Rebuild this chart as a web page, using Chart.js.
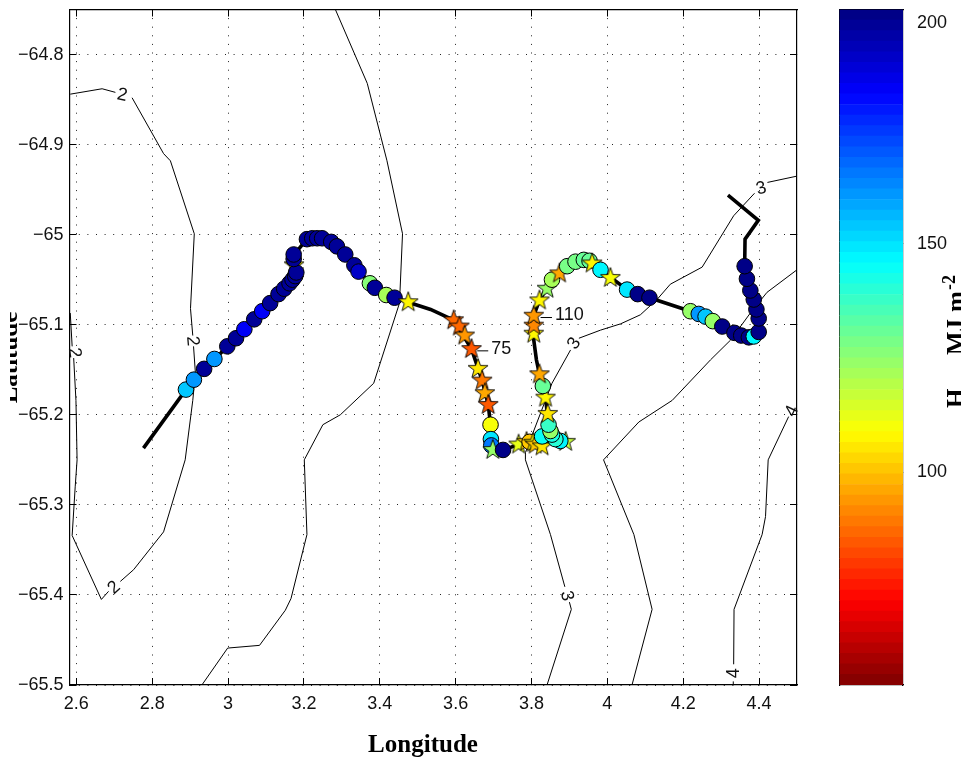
<!DOCTYPE html>
<html>
<head>
<meta charset="utf-8">
<title>Track over contours</title>
<script src="https://cdn.jsdelivr.net/npm/chart.js@4/dist/chart.umd.min.js"></script>
<style>
  html, body { margin: 0; padding: 0; background: #fff; overflow: hidden; }
  canvas { position: absolute; top: 0; }
  #map { left: 0; }
  #bar { left: 830px; }
</style>
</head>
<body>
<canvas id="map" width="830" height="761"></canvas>
<canvas id="bar" width="131" height="761"></canvas>
<script>
// axis ticks
const lonTicks = [2.6, 2.8, 3, 3.2, 3.4, 3.6, 3.8, 4, 4.2, 4.4];
const lonTickLabels = ['2.6', '2.8', '3', '3.2', '3.4', '3.6', '3.8', '4', '4.2', '4.4'];
const latTicks = [-64.8, -64.9, -65, -65.1, -65.2, -65.3, -65.4, -65.5];
const latTickLabels = ['\u221264.8', '\u221264.9', '\u221265', '\u221265.1', '\u221265.2', '\u221265.3', '\u221265.4', '\u221265.5'];
const barTicks = [100, 150];

// ship track line
const trackLon = [2.777, 2.889, 2.998, 3.090, 3.148, 3.180, 3.174, 3.208, 3.248, 3.287, 3.333, 3.374, 3.439, 3.475, 3.534, 3.595, 3.642, 3.670, 3.686, 3.692, 3.694, 3.725, 3.766, 3.828, 3.863, 3.845, 3.837, 3.821, 3.813, 3.806, 3.806, 3.821, 3.854, 3.894, 3.938, 3.982, 4.052, 4.111, 4.219, 4.303, 4.353, 4.386, 4.399, 4.399, 4.377, 4.362, 4.363, 4.398, 4.318];
const trackLat = [-65.237, -65.172, -65.124, -65.085, -65.060, -65.042, -65.022, -65.005, -65.004, -65.013, -65.034, -65.054, -65.070, -65.075, -65.083, -65.095, -65.127, -65.162, -65.189, -65.211, -65.234, -65.239, -65.233, -65.235, -65.227, -65.211, -65.181, -65.155, -65.139, -65.117, -65.090, -65.073, -65.050, -65.035, -65.028, -65.039, -65.061, -65.070, -65.085, -65.102, -65.112, -65.113, -65.108, -65.093, -65.062, -65.035, -65.005, -64.984, -64.956];

// stations along the track (star = 1 draws a star, otherwise a circle)
const stationLon = [2.889, 2.910, 2.937, 2.964, 2.998, 3.021, 3.043, 3.069, 3.090, 3.111, 3.133, 3.148, 3.174, 3.162, 3.170, 3.177, 3.180, 3.173, 3.173, 3.208, 3.222, 3.235, 3.248, 3.272, 3.287, 3.309, 3.333, 3.344, 3.374, 3.387, 3.417, 3.439, 3.475, 3.595, 3.610, 3.624, 3.642, 3.659, 3.670, 3.677, 3.686, 3.692, 3.693, 3.694, 3.698, 3.725, 3.766, 3.787, 3.795, 3.805, 3.810, 3.828, 3.828, 3.890, 3.876, 3.863, 3.854, 3.850, 3.845, 3.843, 3.837, 3.830, 3.821, 3.806, 3.806, 3.806, 3.821, 3.841, 3.854, 3.874, 3.894, 3.916, 3.938, 3.953, 3.960, 3.982, 4.008, 4.052, 4.080, 4.111, 4.219, 4.241, 4.259, 4.278, 4.303, 4.335, 4.353, 4.373, 4.386, 4.399, 4.399, 4.393, 4.386, 4.377, 4.368, 4.362];
const stationLat = [-65.172, -65.161, -65.149, -65.138, -65.124, -65.115, -65.105, -65.094, -65.085, -65.076, -65.066, -65.060, -65.034, -65.054, -65.050, -65.046, -65.042, -65.027, -65.022, -65.005, -65.004, -65.004, -65.004, -65.008, -65.013, -65.022, -65.034, -65.041, -65.054, -65.059, -65.067, -65.070, -65.075, -65.095, -65.102, -65.112, -65.127, -65.149, -65.162, -65.176, -65.189, -65.211, -65.227, -65.234, -65.239, -65.239, -65.233, -65.230, -65.230, -65.231, -65.233, -65.235, -65.224, -65.230, -65.229, -65.227, -65.222, -65.218, -65.211, -65.199, -65.181, -65.168, -65.155, -65.110, -65.101, -65.090, -65.073, -65.060, -65.050, -65.043, -65.035, -65.030, -65.028, -65.029, -65.032, -65.039, -65.048, -65.061, -65.066, -65.070, -65.085, -65.088, -65.091, -65.096, -65.102, -65.109, -65.112, -65.114, -65.113, -65.108, -65.093, -65.083, -65.072, -65.062, -65.049, -65.035];
const stationVal = [155, 161, 198, 161, 198, 198, 183, 198, 183, 198, 198, 198, 108, 198, 198, 198, 198, 198, 198, 198, 198, 198, 198, 198, 198, 198, 198, 192, 126, 198, 122, 198, 108, 88, 86, 93, 84, 105, 90, 97, 84, 110, 150, 165, 125, 200, 112, 100, 100, 108, 100, 105, 145, 118, 148, 140, 142, 125, 137, 105, 108, 130, 97, 107, 92, 95, 108, 125, 122, 97, 128, 128, 130, 130, 108, 148, 110, 150, 200, 200, 125, 162, 155, 124, 200, 200, 200, 200, 148, 200, 200, 200, 200, 200, 200, 200];
const stationStar = [0, 0, 0, 0, 0, 0, 0, 0, 0, 0, 0, 0, 1, 0, 0, 0, 0, 0, 0, 0, 0, 0, 0, 0, 0, 0, 0, 0, 0, 0, 0, 0, 1, 1, 1, 1, 1, 1, 1, 1, 1, 0, 0, 0, 1, 0, 1, 1, 0, 1, 1, 1, 0, 1, 0, 0, 0, 0, 0, 1, 1, 0, 1, 1, 1, 1, 1, 1, 0, 1, 0, 0, 0, 0, 1, 0, 1, 0, 0, 0, 0, 0, 0, 0, 0, 0, 0, 0, 0, 0, 0, 0, 0, 0, 0, 0];

// contour lines, null leaves the gap where a label sits
const contourLon = [
    [2.584, 2.668, 2.703, null, 2.747, 2.830, 2.848, 2.911, 2.901, 2.907, null, 2.909, 2.914, 2.907, 2.887, 2.830, 2.751, 2.716, null, 2.685, 2.666, 2.589, 2.597, 2.602, 2.599, 2.593, null, 2.589, 2.584],
    [3.283, 3.367, 3.419, 3.460, 3.452, 3.384, 3.296, 3.250, 3.201, 3.208, 3.166, 3.151, 3.083, 2.999, 2.931],
    [3.841, 3.905, 3.900, null, 3.888, 3.850, 3.784, 3.784, 3.854, 3.903, null, 3.925, 3.982, 4.035, 4.087, 4.131, 4.166, 4.250, 4.333, 4.388, null, 4.422, 4.500],
    [4.065, 4.118, 4.070, 3.990, 4.083, 4.171, 4.272, 4.325, 4.377, 4.421, 4.500],
    [4.332, 4.332, null, 4.333, 4.334, 4.408, 4.417, 4.424, 4.478, null, 4.500]
];
const contourLat = [
    [-64.844, -64.838, -64.842, null, -64.848, -64.910, -64.918, -64.999, -65.082, -65.112, null, -65.124, -65.154, -65.184, -65.250, -65.330, -65.372, -65.385, null, -65.396, -65.405, -65.334, -65.280, -65.250, -65.184, -65.137, null, -65.124, -65.087],
    [-64.750, -64.832, -64.918, -64.999, -65.076, -65.165, -65.200, -65.211, -65.250, -65.333, -65.404, -65.417, -65.456, -65.459, -65.500],
    [-65.500, -65.416, -65.408, null, -65.391, -65.333, -65.250, -65.242, -65.165, -65.128, null, -65.115, -65.106, -65.099, -65.089, -65.072, -65.055, -65.036, -64.979, -64.954, null, -64.942, -64.935],
    [-65.500, -65.416, -65.333, -65.250, -65.208, -65.184, -65.139, -65.117, -65.087, -65.064, -65.039],
    [-65.500, -65.496, null, -65.477, -65.416, -65.333, -65.313, -65.250, -65.202, null, -65.185]
];

// contour labels
const labelText = ['2', '2', '2', '2', '3', '3', '3', '4', '4'];
const labelLon = [2.721, 2.906, 2.595, 2.700, 3.893, 3.913, 4.406, 4.333, 4.487];
const labelLat = [-64.845, -65.118, -65.131, -65.392, -65.401, -65.121, -64.949, -65.487, -65.196];
const labelAngle = [12, 85, 82, -42, 78, -55, -15, -90, -65];

// the two numbered stations
const noteText = ['75', '110'];
const noteLon = [3.657, 3.824];
const noteEnd = [3.686, 3.854];
const noteLat = [-65.129, -65.092];

// colour bar range
const barMin = 53.5;
const barMax = 201.3;
const barLevels = 64;

function jet(value) {
    const t = Math.min(0.9999, Math.max(0, (value - barMin) / (barMax - barMin)));
    const s = 1 - (Math.floor(t * barLevels) + 0.5) / barLevels;
    const c = v => Math.round(255 * Math.min(1, Math.max(0, v)));
    return `rgb(${c(Math.min(4 * s - 1.5, 4.5 - 4 * s))},${c(Math.min(4 * s - 0.5, 3.5 - 4 * s))},${c(Math.min(4 * s + 0.5, 2.5 - 4 * s))})`;
}

function starImage(color) {
    const cv = document.createElement('canvas');
    cv.width = 24;
    cv.height = 24;
    const ctx = cv.getContext('2d');
    ctx.beginPath();
    for (let i = 0; i < 10; i++) {
        const r = i % 2 ? 4.2 : 10.4;
        const a = -Math.PI / 2 + i * Math.PI / 5;
        ctx.lineTo(12 + r * Math.cos(a), 12 + r * Math.sin(a));
    }
    ctx.closePath();
    ctx.fillStyle = color;
    ctx.fill();
    ctx.lineWidth = 0.9;
    ctx.strokeStyle = '#000';
    ctx.stroke();
    return cv;
}

function xy(lons, lats) {
    return lons.map((v, i) => (v === null ? { x: NaN, y: NaN } : { x: v, y: lats[i] }));
}

const sansFont = 'Liberation Sans, Arial, sans-serif';
const serifFont = 'Liberation Serif, Times New Roman, serif';
const tickFont = { family: sansFont, size: 18 };

function fixedTicks(values) {
    return scale => { scale.ticks = values.map(v => ({ value: v })); };
}

// pin an axis to a given thickness, without room for overhanging labels
function fixSize(size) {
    return scale => {
        if (scale.isHorizontal()) scale.height = size;
        else scale.width = size;
        scale.paddingTop = 0;
        scale.paddingBottom = 0;
        scale.paddingLeft = 0;
        scale.paddingRight = 0;
    };
}

function boxAxis(position, min, max, values, size) {
    return {
        type: 'linear',
        position: position,
        min: min,
        max: max,
        afterBuildTicks: fixedTicks(values),
        afterFit: fixSize(size),
        border: { color: '#000', width: 1.2 },
        grid: { drawOnChartArea: false, color: '#000', tickColor: '#000', tickLength: -7 },
        ticks: { display: false, autoSkip: false }
    };
}

const mapText = {
    id: 'mapText',
    afterDatasetsDraw(chart) {
        const { ctx, scales } = chart;
        ctx.save();
        ctx.fillStyle = '#111';
        ctx.textAlign = 'center';
        ctx.textBaseline = 'middle';
        ctx.font = '18px ' + sansFont;
        labelText.forEach((t, i) => {
            ctx.save();
            ctx.translate(scales.x.getPixelForValue(labelLon[i]), scales.y.getPixelForValue(labelLat[i]));
            ctx.rotate(labelAngle[i] * Math.PI / 180);
            ctx.fillText(t, 0, 0);
            ctx.restore();
        });
        ctx.textAlign = 'left';
        noteText.forEach((t, i) => {
            ctx.fillText(t, scales.x.getPixelForValue(noteEnd[i]) + 3, scales.y.getPixelForValue(noteLat[i]) - 2);
        });
        ctx.restore();
    },
    afterDraw(chart) {
        const { ctx } = chart;
        ctx.save();
        ctx.fillStyle = '#000';
        ctx.font = 'bold 25px ' + serifFont;
        ctx.textAlign = 'center';
        ctx.textBaseline = 'alphabetic';
        ctx.fillText('Longitude', 423, 752);
        // the y label is cut off by the left margin of the figure
        ctx.beginPath();
        ctx.rect(10, 0, 60, 761);
        ctx.clip();
        ctx.translate(16.5, 357.5);
        ctx.rotate(-Math.PI / 2);
        ctx.fillText('Latitude', 0, 0);
        ctx.restore();
    }
};

const contourSets = contourLon.map((lons, i) => ({
    type: 'scatter',
    data: xy(lons, contourLat[i]),
    showLine: true,
    spanGaps: false,
    borderColor: '#000',
    borderWidth: 1,
    pointRadius: 0,
    order: 3
}));

const noteSets = noteText.map((t, i) => ({
    type: 'scatter',
    data: xy([noteLon[i], noteEnd[i]], [noteLat[i], noteLat[i]]),
    showLine: true,
    borderColor: '#000',
    borderWidth: 1,
    pointRadius: 0,
    order: 2
}));

new Chart(document.getElementById('map'), {
    type: 'scatter',
    data: {
        datasets: [
            {
                data: xy(stationLon, stationLat),
                pointRadius: 7.8,
                pointBorderWidth: 1,
                pointBorderColor: '#000',
                pointBackgroundColor: stationVal.map(jet),
                pointStyle: stationVal.map((v, i) => (stationStar[i] ? starImage(jet(v)) : 'circle')),
                order: 0
            },
            {
                data: xy(trackLon, trackLat),
                showLine: true,
                borderColor: '#000',
                borderWidth: 3.6,
                pointRadius: 0,
                order: 1
            },
            ...noteSets,
            ...contourSets
        ]
    },
    options: {
        responsive: false,
        animation: false,
        events: [],
        plugins: { legend: { display: false }, tooltip: { enabled: false } },
        scales: {
            x: {
                type: 'linear',
                position: 'bottom',
                min: 2.582,
                max: 4.5,
                afterBuildTicks: fixedTicks(lonTicks),
                afterFit: fixSize(76),
                border: { color: '#000', width: 1.2, dash: [1, 7.6] },
                grid: { color: '#222', tickColor: '#000', tickLength: -7 },
                ticks: {
                    autoSkip: false,
                    maxRotation: 0,
                    padding: 15,
                    color: '#111',
                    font: tickFont,
                    callback: (v, i) => lonTickLabels[i]
                }
            },
            y: {
                type: 'linear',
                position: 'left',
                min: -65.5,
                max: -64.75,
                afterBuildTicks: fixedTicks(latTicks),
                afterFit: fixSize(69.5),
                border: { color: '#000', width: 1.2, dash: [1, 7.6] },
                grid: { color: '#222', tickColor: '#000', tickLength: -7 },
                ticks: {
                    autoSkip: false,
                    padding: 13,
                    color: '#111',
                    font: tickFont,
                    callback: (v, i) => latTickLabels[i]
                }
            },
            xTop: boxAxis('top', 2.582, 4.5, lonTicks, 9.5),
            yRight: boxAxis('right', -65.5, -64.75, latTicks, 33)
        }
    },
    plugins: [mapText]
});

// colour bar
const barStep = (barMax - barMin) / barLevels;
const barSets = Array.from({ length: barLevels }, (_, i) => ({
    data: [[barMin + i * barStep, barMin + (i + 1) * barStep]],
    backgroundColor: jet(barMin + (i + 0.5) * barStep),
    borderWidth: 0,
    grouped: false,
    categoryPercentage: 1,
    barPercentage: 1
}));

const barText = {
    id: 'barText',
    afterDraw(chart) {
        const { ctx, scales } = chart;
        ctx.save();
        ctx.fillStyle = '#111';
        ctx.font = '18px ' + sansFont;
        ctx.textBaseline = 'middle';
        ctx.fillText('200', chart.chartArea.right + 14, scales.y.getPixelForValue(200) + 8);
        ctx.fillStyle = '#000';
        ctx.textBaseline = 'alphabetic';
        ctx.translate(134, 408);
        ctx.rotate(-Math.PI / 2);
        ctx.font = 'bold 25px ' + serifFont;
        ctx.fillText('H', 0, 0);
        ctx.fillText('MJ', 53, 0);
        ctx.fillText('m', 96, 0);
        ctx.font = 'bold 18px ' + serifFont;
        ctx.fillText('-2', 118, -9);
        ctx.restore();
    }
};

new Chart(document.getElementById('bar'), {
    type: 'bar',
    data: { labels: [''], datasets: barSets },
    options: {
        responsive: false,
        animation: false,
        events: [],
        plugins: { legend: { display: false }, tooltip: { enabled: false } },
        scales: {
            x: {
                position: 'bottom',
                afterFit: fixSize(76),
                border: { color: '#000', width: 1.2 },
                grid: { display: false },
                ticks: { display: false }
            },
            xTop: {
                type: 'category',
                labels: [''],
                position: 'top',
                afterFit: fixSize(9.5),
                border: { color: '#000', width: 1.2 },
                grid: { display: false },
                ticks: { display: false }
            },
            y: {
                type: 'linear',
                position: 'right',
                min: barMin,
                max: barMax,
                afterBuildTicks: fixedTicks(barTicks),
                afterFit: fixSize(58),
                border: { color: '#000', width: 1.2 },
                grid: { drawOnChartArea: false, color: '#000', tickColor: '#000', tickLength: -6 },
                ticks: { autoSkip: false, padding: 20, color: '#111', font: tickFont }
            },
            yLeft: boxAxis('left', barMin, barMax, barTicks, 9.5)
        }
    },
    plugins: [barText]
});
</script>
</body>
</html>
